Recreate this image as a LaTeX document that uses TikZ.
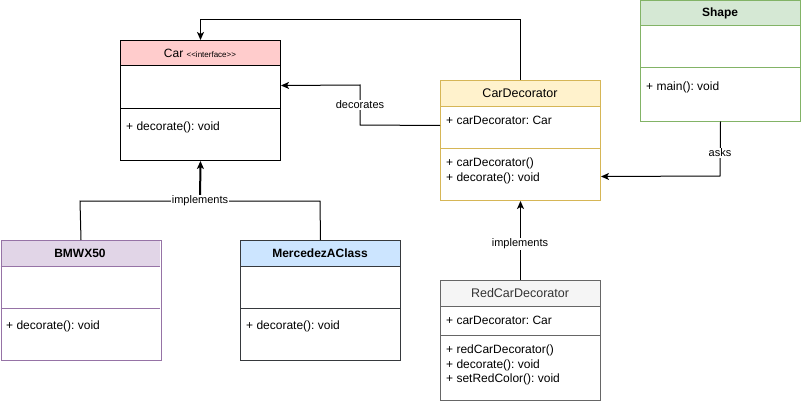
\documentclass[tikz,border=0pt]{standalone}
\usepackage{fontspec}
\setmainfont{Liberation Sans}
\usetikzlibrary{arrows.meta}
\definecolor{carH}{HTML}{FFCCCC}
\definecolor{decH}{HTML}{FFF2CC}
\definecolor{decS}{HTML}{D6B656}
\definecolor{shpH}{HTML}{D5E8D4}
\definecolor{shpS}{HTML}{82B366}
\definecolor{bmwH}{HTML}{E1D5E7}
\definecolor{bmwS}{HTML}{9673A6}
\definecolor{merH}{HTML}{CCE5FF}
\definecolor{merS}{HTML}{36393D}
\definecolor{redH}{HTML}{F5F5F5}
\definecolor{redS}{HTML}{666666}
\definecolor{redT}{HTML}{333333}
\frenchspacing
\begin{document}
\begin{tikzpicture}[x=1pt,y=-1pt,
  cls/.style={draw=#1, line width=1pt, minimum width=160pt, minimum height=120pt, inner sep=0pt, anchor=north west},
  ttl/.style={font=\fontsize{12}{14}\selectfont, inner sep=0pt},
  ttlb/.style={font=\fontsize{12}{14}\selectfont\bfseries, inner sep=0pt},
  ttlm/.style={font=\fontsize{12.5}{14}\selectfont, inner sep=0pt},
  mem/.style={font=\fontsize{12}{14.5}\selectfont, inner sep=0pt, anchor=west, align=left},
  lbl/.style={fill=white, font=\fontsize{11}{13}\selectfont, inner sep=1pt},
  conn/.style={line width=1pt, -{Stealth[length=8pt, width=7pt, inset=2pt]}},
  plain/.style={line width=1pt}]
\useasboundingbox (0,0) rectangle (801,404);
% Car
\fill[carH] (120,40) rectangle (280,66);
\node[cls=black] (car) at (120,40) {};
\draw[plain] (120,66) -- (280,66) (120,108) -- (280,108);
\node[ttl] at (200,53) {Car {\fontsize{8}{9}\selectfont <\kern0pt<interface>\kern0pt>}};
\node[mem] at (126,127) {+ decorate(): void};
% CarDecorator
\fill[decH] (440,80) rectangle (600,106);
\node[cls=decS] (cdec) at (440,80) {};
\draw[plain, decS] (440,106) -- (600,106) (440,148) -- (600,148);
\node[ttlm] at (520,93) {CarDecorator};
\node[mem] at (446,120) {+ carDecorator: Car};
\node[mem, anchor=north west] at (446,158) {+ carDecorator()\\+ decorate(): void};
% Shape
\fill[shpH] (640,0.5) rectangle (800,26);
\node[cls=shpS] (shape) at (640,0.5) {};
\draw[plain, shpS] (640,26) -- (800,26) (640,68) -- (800,68);
\node[ttlb] at (720,13) {Shape};
\node[mem] at (646,87) {+ main(): void};
% BMWX50
\fill[bmwH] (0.5,240) rectangle (160,266);
\node[cls=bmwS] (bmw) at (0.5,240) {};
\draw[plain, bmwS] (0.5,266) -- (160,266) (0.5,308) -- (160,308);
\node[ttlb] at (80,253) {BMWX50};
\node[mem] at (6,326) {+ decorate(): void};
% MercedezAClass
\fill[merH] (240,240) rectangle (400,266);
\node[cls=merS] (merc) at (240,240) {};
\draw[plain, merS] (240,266) -- (400,266) (240,308) -- (400,308);
\node[ttlb] at (320,253) {MercedezAClass};
\node[mem] at (246,326) {+ decorate(): void};
% RedCarDecorator
\fill[redH] (440,280) rectangle (600,306);
\node[cls=redS] (rcd) at (440,280) {};
\draw[plain, redS] (440,306) -- (600,306) (440,335) -- (600,335);
\node[ttlm, text=redT] at (520,293) {RedCarDecorator};
\node[mem] at (446,320) {+ carDecorator: Car};
\node[mem, anchor=north west] at (446,345) {+ redCarDecorator()\\+ decorate(): void\\+ setRedColor(): void};
% connectors
\draw[conn] (cdec.north) -- ++(0,-60) -| (car.north);
\draw[conn] ([yshift=15pt]cdec.west) -- (360,125) -- (360,85) -- ([yshift=15pt]car.east);
\node[lbl] at (360,105) {decorates};
\draw[conn] (shape.south) -- (720,176) -- ([yshift=-36pt]cdec.east);
\node[lbl] at (720,153) {asks};
\draw[conn] (rcd.north) -- (cdec.south);
\node[lbl] at (520,244) {implements};
\coordinate (j) at (200,201);
\draw[plain] (bmw.north) -- (80,201) -- (320,201) -- (merc.north);
\draw[conn, line width=2pt] (j) -- (car.south);
\node[lbl, inner sep=0.5pt] at (j) {implements};
\end{tikzpicture}
\end{document}
